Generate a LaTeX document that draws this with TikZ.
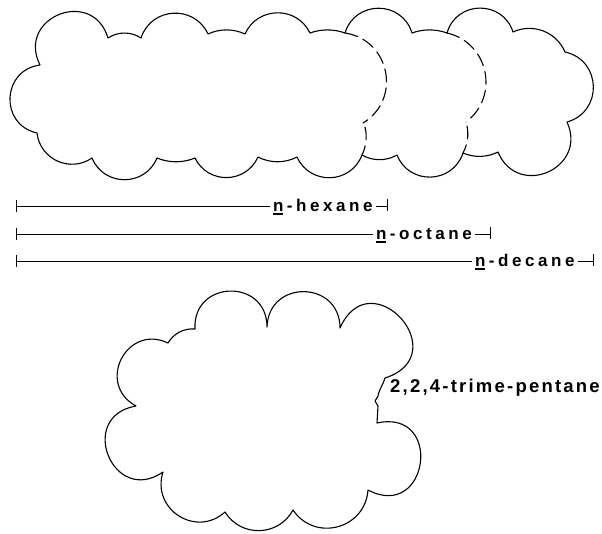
\documentclass[tikz,border=0pt]{standalone}
\usepackage{fontspec}
\setmainfont{Liberation Sans}
\newfontfamily\barfont[LetterSpace=21]{Liberation Sans}
\newfontfamily\molfont[LetterSpace=12]{Liberation Sans}
\usetikzlibrary{calc}

% underlined n, as in the n-alkane names
\newcommand\ulinen{\setbox0\hbox{n}\rlap{\rule[-3.5pt]{\wd0}{1.2pt}}n}

\tikzset{
  % circular-looking bulge between two cusps; the value is the arc angle
  bump/.style={
    /utils/exec={\pgfmathsetmacro\bumpk{2/3*tan(#1/4)/sin(#1/2)}%
                 \pgfmathsetmacro\bumpa{#1/2}},
    to path={.. controls ($(\tikztostart)!\bumpk!\bumpa:(\tikztotarget)$)
                 and ($(\tikztotarget)!\bumpk!-\bumpa:(\tikztostart)$) .. (\tikztotarget)}},
  outline/.style={line width=1.1pt, line join=round, line cap=round},
  hidden/.style={line width=1.1pt, line cap=round, dash pattern=on 13pt off 6pt},
  bar/.style={line width=0.9pt},
  lbl/.style={font=\barfont\bfseries\fontsize{17}{20}\selectfont,
    inner sep=0pt, outer xsep=3pt, anchor=base west},
  mol/.style={font=\molfont\bfseries\fontsize{18.5}{22}\selectfont,
    inner sep=0pt, anchor=base west},
}

\begin{document}
\begin{tikzpicture}[x=1pt, y=-1pt]
\useasboundingbox (0,0) rectangle (602,533);

% outer contour of the n-hexane / n-octane / n-decane clouds
\draw[outline] (40,65) to[bump=190] (108,38) to[bump=67] (141,38)
  to[bump=137] (208,34) to[bump=50] (245,34) to[bump=130] (310,33)
  to[bump=40] (345,33) to[bump=146] (412,33) to[bump=40] (447,33)
  to[bump=146] (513,32) to[bump=92] (565,52) to[bump=152] (567,122)
  to[bump=182] (498,152) to[bump=50] (463,153) to[bump=140] (397,155)
  to[bump=60] (362,155) to[bump=135] (297,157) to[bump=55] (258,157)
  to[bump=130] (195,158) to[bump=45] (157,158) to[bump=135] (92,158)
  to[bump=118] (37,133) to[bump=160] (40,65);

% hidden right edges of the shorter molecules
\draw[hidden] (345,33) to[bump=140] (363,123);
\draw[hidden] (365,127) to[bump=40] (362,155);
\draw[hidden] (447,33) to[bump=130] (466,122);
\draw[hidden] (467,126) to[bump=40] (463,153);

% length bars
\coordinate (hexL) at (16,206);
\coordinate (hexR) at (387,206);
\coordinate (octL) at (16,234);
\coordinate (octR) at (490,234);
\coordinate (decL) at (16,261);
\coordinate (decR) at (593,261);

\node[lbl] (hexlbl) at (270,211) {\ulinen-hexane};
\node[lbl] (octlbl) at (373,239) {\ulinen-octane};
\node[lbl] (declbl) at (472,266) {\ulinen-decane};

\draw[bar] (hexL) -- (hexlbl.west |- hexL);
\draw[bar] (hexlbl.east |- hexL) -- (hexR);
\draw[bar] (octL) -- (octlbl.west |- octL);
\draw[bar] (octlbl.east |- octL) -- (octR);
\draw[bar] (decL) -- (declbl.west |- decL);
\draw[bar] (declbl.east |- decL) -- (decR);

\foreach \c in {hexL, octL, decL}
  \draw[bar] ([yshift=6pt]\c) -- ([yshift=-6pt]\c);
\foreach \c in {hexR, octR, decR}
  \draw[bar] ([yshift=7pt]\c) -- ([yshift=-5pt]\c);

% 2,2,4-trimethylpentane cloud
\draw[outline] (136,406) to[bump=177] (168,343) to[bump=65] (195,329)
  to[bump=183] (267,327) to[bump=178] (340,328) to[bump=228] (385,378)
  to[out=-105,in=80] (378,396) -- (375,401) -- (378,406) -- (377,423)
  to[bump=220] (368,490) to[bump=142] (293,510) to[bump=120] (225,512)
  to[bump=150] (163,472) to[bump=205] (136,406);

\node[mol] (tmp) at (390,392) {2,2,4-trime-pentane};
\end{tikzpicture}
\end{document}
